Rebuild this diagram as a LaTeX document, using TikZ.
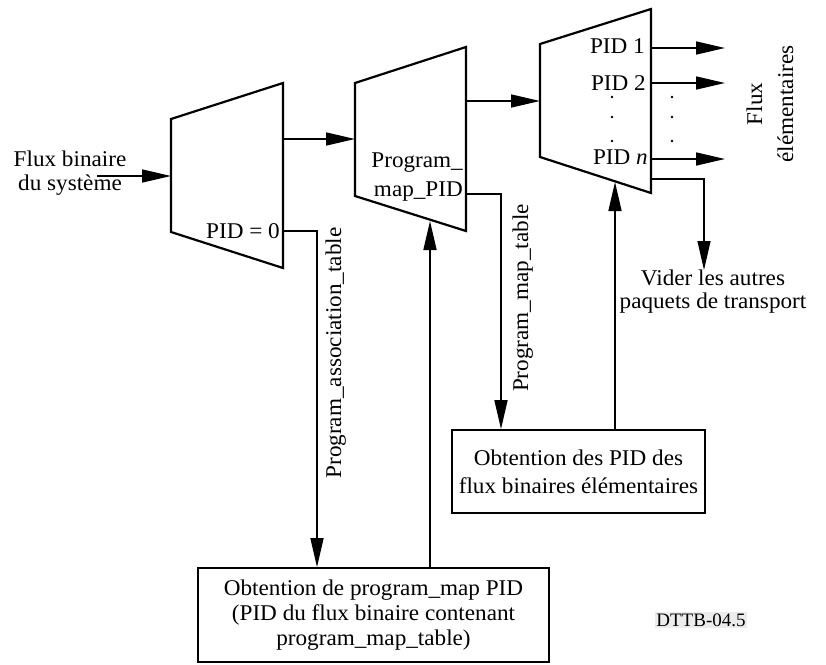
\documentclass[tikz,border=0pt]{standalone}
\usepackage{fontspec}
\setmainfont{Liberation Serif}[FakeStretch=1.03]
\newfontfamily\tagfont{Liberation Serif}
\usetikzlibrary{arrows.meta,calc}
\begin{document}
\begin{tikzpicture}[x=1pt,y=-1pt,
  mux/.style={line width=2.2pt, line join=miter},
  tip/.style={-{Triangle[length=29pt,width=13pt]}},
  conn/.style={line width=1.6pt, line join=miter, tip},
  thinconn/.style={line width=1.1pt, line join=miter, tip},
  box/.style={draw, line width=1.8pt, align=center, inner sep=0pt, font=\fontsize{22.5}{25}\selectfont},
  lbl/.style={inner sep=0pt, font=\fontsize{22.5}{24}\selectfont},
  dot/.style={fill, circle, inner sep=0pt, minimum size=2.6pt}
]
\useasboundingbox (0,0) rectangle (826,664);

% multiplexers
\draw[mux] (171,119) -- (283,83) -- (283,268) -- (171,232) -- cycle;
\draw[mux] (355,83) -- (466,47) -- (466,231) -- (355,196) -- cycle;
\draw[mux] (540,44) -- (651,9) -- (651,193) -- (540,157) -- cycle;

\coordinate (in) at (97,176);
\coordinate (m1in) at (171,176);
\coordinate (m1out) at (283,139);
\coordinate (m1pid) at (283,231);
\coordinate (c1) at (317,231);
\coordinate (m2in) at (355,139);
\coordinate (m2out) at (466,101);
\coordinate (m2pid) at (466,194);
\coordinate (c2) at (501,194);
\coordinate (m2b) at (430,221);
\coordinate (m3in) at (540,101);
\coordinate (m3o1) at (651,48);
\coordinate (m3o2) at (651,83);
\coordinate (m3on) at (651,159);
\coordinate (e1) at (725,48);
\coordinate (e2) at (725,83);
\coordinate (en) at (725,159);
\coordinate (m3d) at (651,179);
\coordinate (c3) at (704,179);
\coordinate (m3b) at (615,182);

% labels
\node[lbl, align=center] (src) at (70,173) {Flux binaire\\du système};
\node[lbl, anchor=base east] (pid0) at (280,238) {PID = 0};
\node[lbl, align=right, anchor=east, font=\fontsize{22.5}{29}\selectfont] (pmp) at (463,177) {Program\_\\map\_PID};
\node[lbl, anchor=base east] (p1) at (645,53) {PID 1};
\node[lbl, anchor=base east] (p2) at (646,90) {PID 2};
\node[lbl, anchor=base east] (pn) at (648,164) {PID \textit{n}};
\node[dot] (di1) at (612,97) {};
\node[dot] (di2) at (612,117) {};
\node[dot] (di3) at (612,141) {};
\node[dot] (do1) at (672,97) {};
\node[dot] (do2) at (672,117) {};
\node[dot] (do3) at (672,141) {};
\node[lbl, rotate=90, align=center, font=\fontsize{22.5}{31}\selectfont] (fe) at (770,104) {Flux\\élémentaires};
\node[lbl, align=center, anchor=north, font=\fontsize{22.5}{23}\selectfont] (vider) at (713,270) {Vider les autres\\paquets de transport};
\node[lbl, rotate=90, anchor=base] (pat) at (341,353) {Program\_association\_table};
\node[lbl, rotate=90, anchor=base] (pmt) at (528,298) {Program\_map\_table};

% boxes
\node[box, minimum width=253pt, minimum height=83pt, font=\fontsize{22.5}{28}\selectfont] (b1) at (578.5,471.5) {Obtention des PID des\\flux binaires élémentaires};
\node[box, minimum width=351pt, minimum height=94pt] (b2) at (373.5,615) {Obtention de program\_map PID\\(PID du flux binaire contenant\\program\_map\_table)};

\node[inner sep=1.5pt, fill=gray!15, font=\tagfont\fontsize{19}{21}\selectfont] (tag) at (701,620) {DTTB-04.5};

% connectors
\draw[conn] (in) -- (m1in);
\draw[conn] (m1out) -- (m2in);
\draw[conn] (m2out) -- (m3in);
\draw[conn] (m3o1) -- (e1);
\draw[conn] (m3o2) -- (e2);
\draw[conn] (m3on) -- (en);
\draw[conn] (m1pid) -- (c1) -- (c1 |- b2.north);
\draw[conn] (m2pid) -- (c2) -- (c2 |- b1.north);
\draw[conn] (b2.north -| m2b) -- (m2b);
\draw[conn] (b1.north -| m3b) -- (m3b);
\draw[thinconn] (m3d) -- (c3) -- (c3 |- vider.north);
\end{tikzpicture}
\end{document}
